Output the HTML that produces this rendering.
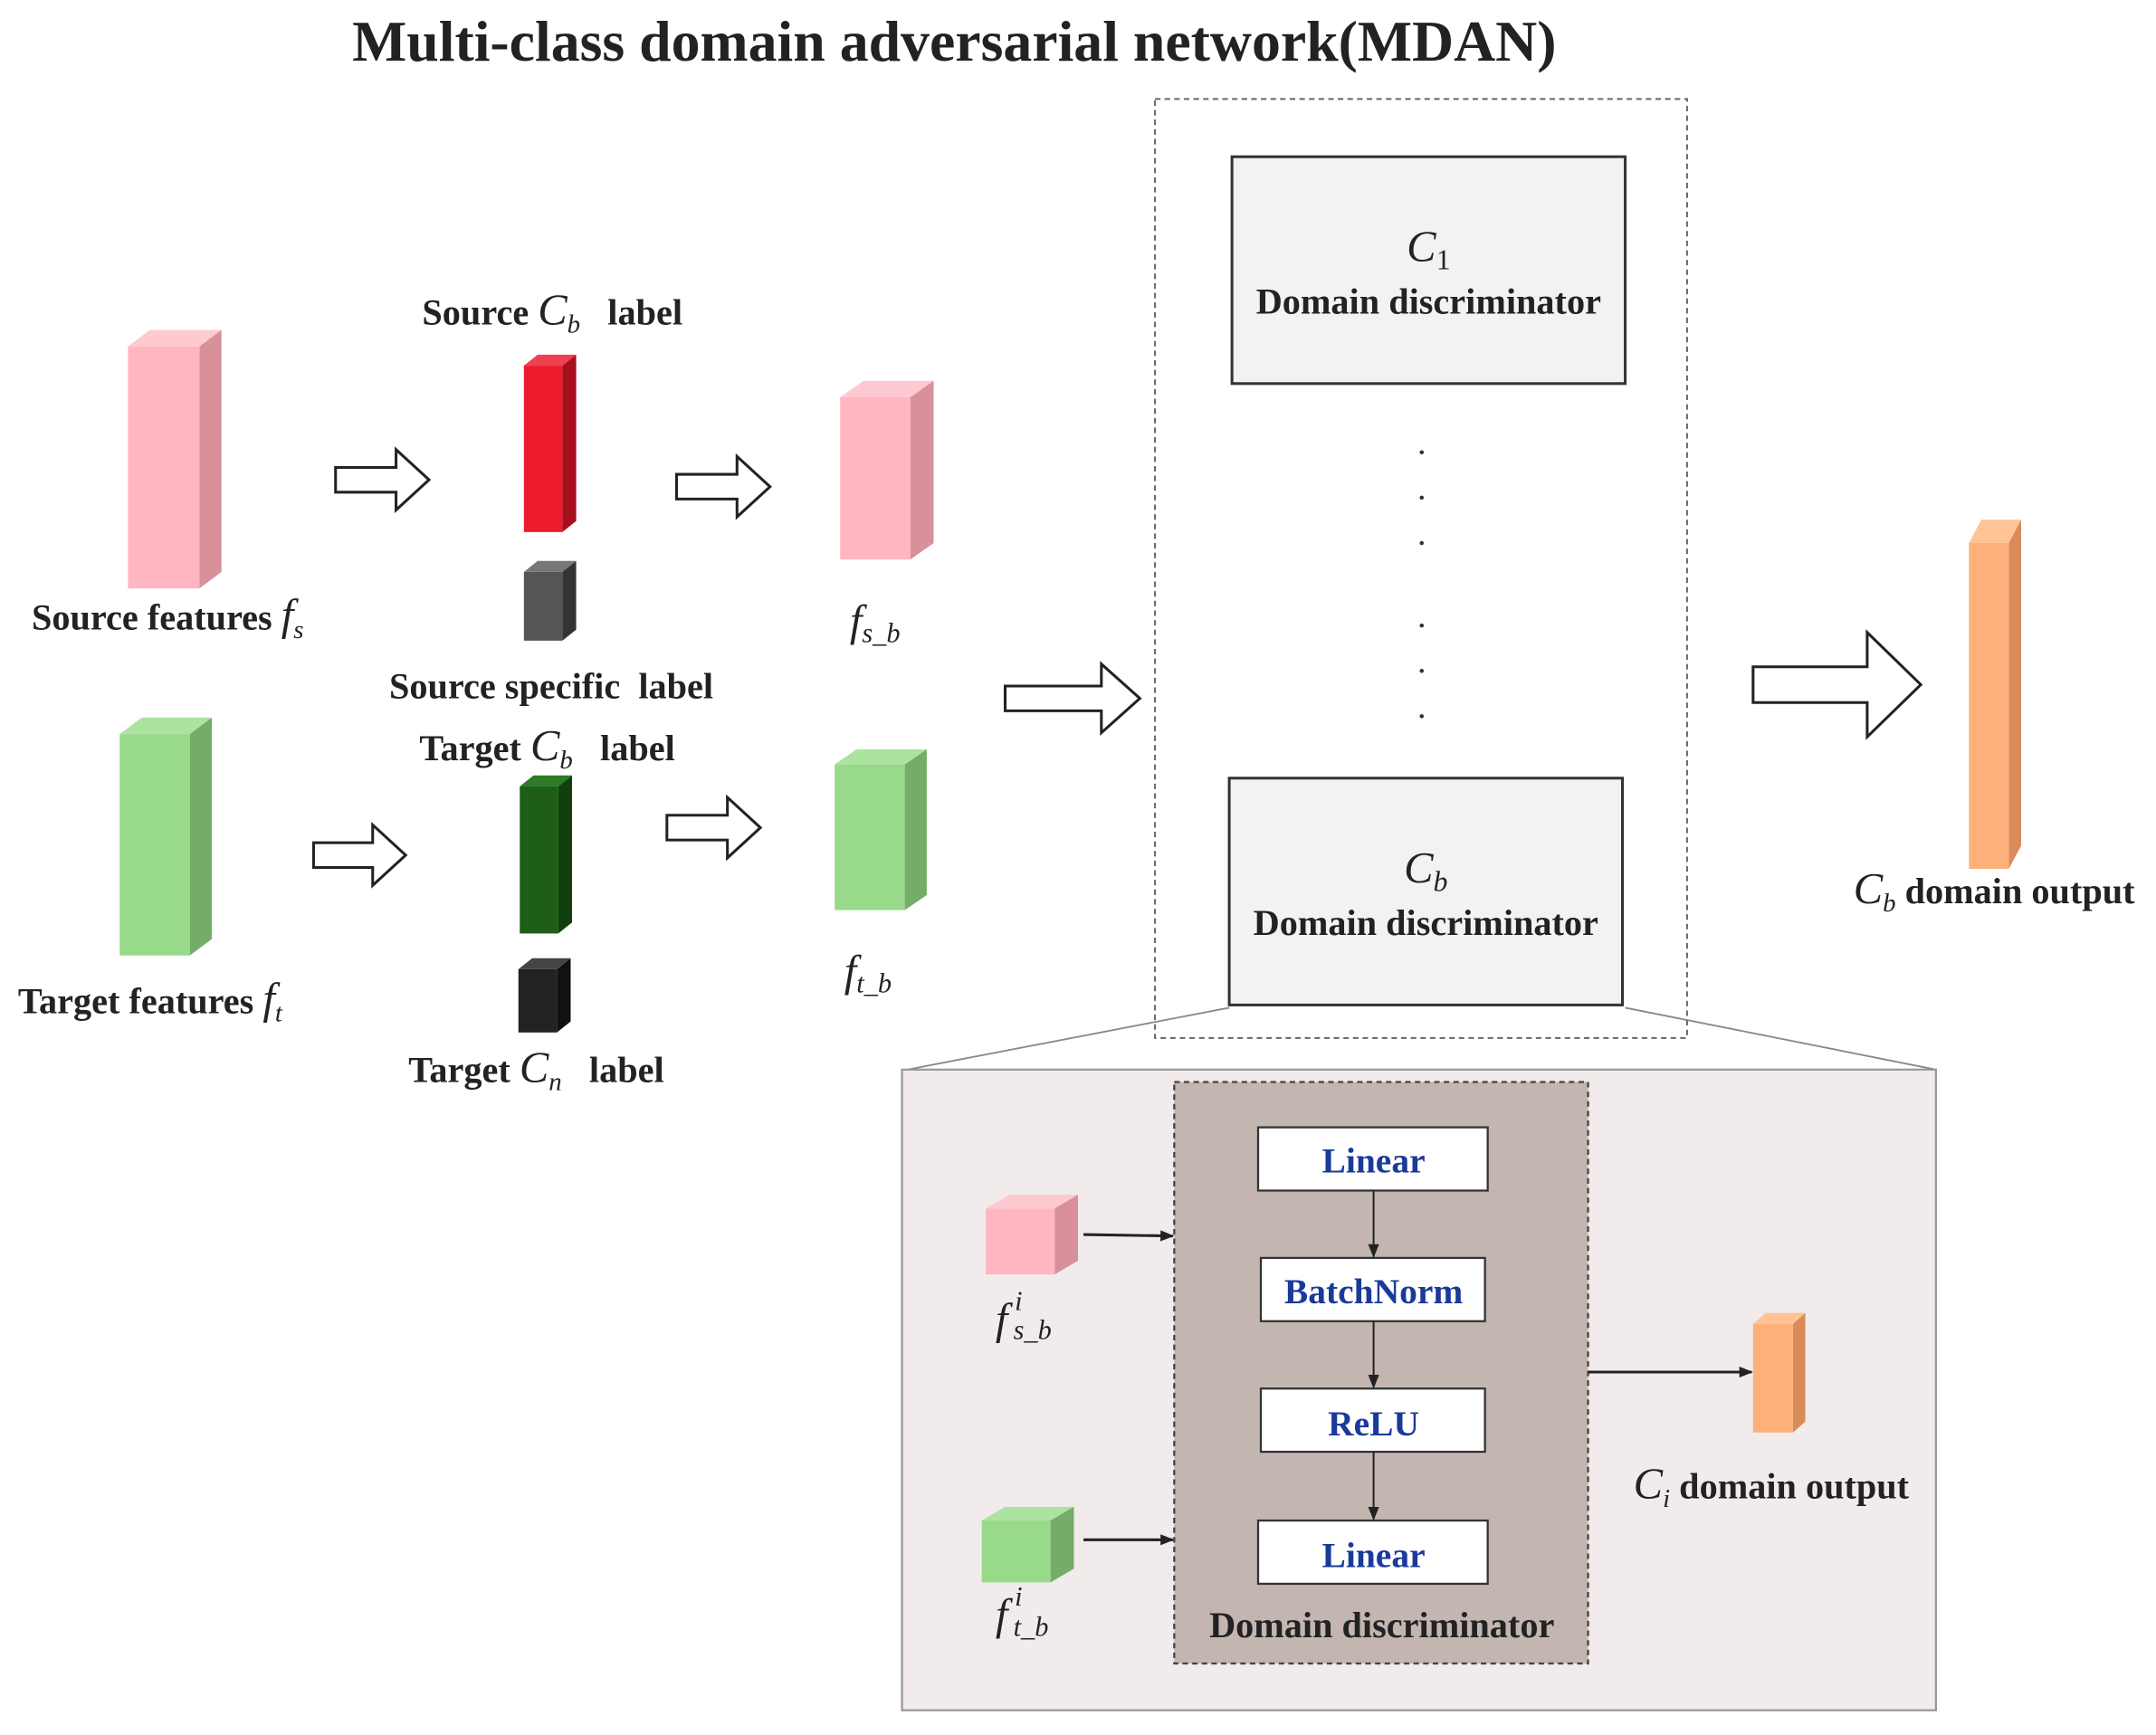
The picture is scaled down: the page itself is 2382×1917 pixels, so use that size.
<!DOCTYPE html>
<html><head><meta charset="utf-8"><style>html,body{margin:0;padding:0;background:#fff}svg{display:block}</style></head>
<body>
<svg width="2382" height="1917" viewBox="0 0 1568 1262" xmlns="http://www.w3.org/2000/svg" font-family="Liberation Serif, serif">
<defs>
<marker id="ah" markerWidth="10" markerHeight="8" refX="9" refY="4" orient="auto" markerUnits="userSpaceOnUse"><path d="M0,0 L10,4 L0,8 Z" fill="#222"/></marker>
</defs>
<rect width="1568" height="1262" fill="#fff"/>
<text x="694" y="44" text-anchor="middle" font-size="42" font-weight="bold" fill="#222">Multi-class domain adversarial network(MDAN)</text>

<line x1="894" y1="733" x2="660" y2="778" stroke="#888" stroke-width="1.2"/>
<line x1="1182" y1="733" x2="1408" y2="778" stroke="#888" stroke-width="1.2"/>
<rect x="656" y="778" width="752" height="466" fill="#F1ECEB" stroke="#999" stroke-width="1.5"/>
<rect x="854" y="787" width="301" height="423" fill="#C3B5B0" stroke="#444" stroke-width="1.5" stroke-dasharray="4,3"/>

<g>
<polygon points="93,252 109,240 161,240 145,252" fill="#FFC9D1"/><polygon points="145,252 161,240 161,416 145,428" fill="#D8909B"/><rect x="93" y="252" width="52" height="176" fill="#FFB6C1"/>
<polygon points="381,266 391,258 419,258 409,266" fill="#F04050"/><polygon points="409,266 419,258 419,379 409,387" fill="#A80F1E"/><rect x="381" y="266" width="28" height="121" fill="#EC1B2E"/>
<polygon points="381,416 391,408 419,408 409,416" fill="#777"/><polygon points="409,416 419,408 419,458 409,466" fill="#333"/><rect x="381" y="416" width="28" height="50" fill="#555"/>
<polygon points="611,289 628,277 679,277 662,289" fill="#FFC9D1"/><polygon points="662,289 679,277 679,395 662,407" fill="#D8909B"/><rect x="611" y="289" width="51" height="118" fill="#FFB6C1"/>
<polygon points="87,534 103,522 154,522 138,534" fill="#ADE3A1"/><polygon points="138,534 154,522 154,683 138,695" fill="#74AD68"/><rect x="87" y="534" width="51" height="161" fill="#98D98A"/>
<polygon points="378,572 388,564 416,564 406,572" fill="#2E7A25"/><polygon points="406,572 416,564 416,671 406,679" fill="#123F0E"/><rect x="378" y="572" width="28" height="107" fill="#1E5E17"/>
<polygon points="377,705 387,697 415,697 405,705" fill="#444"/><polygon points="405,705 415,697 415,743 405,751" fill="#111"/><rect x="377" y="705" width="28" height="46" fill="#222"/>
<polygon points="607,556 623,545 674,545 658,556" fill="#ADE3A1"/><polygon points="658,556 674,545 674,651 658,662" fill="#74AD68"/><rect x="607" y="556" width="51" height="106" fill="#98D98A"/>
<polygon points="1432,395 1441,378 1470,378 1461,395" fill="#FFC396"/><polygon points="1461,395 1470,378 1470,615 1461,632" fill="#D98C5A"/><rect x="1432" y="395" width="29" height="237" fill="#FDB07A"/>
<polygon points="717,879 734,869 784,869 767,879" fill="#FFC9D1"/><polygon points="767,879 784,869 784,917 767,927" fill="#D8909B"/><rect x="717" y="879" width="50" height="48" fill="#FFB6C1"/>
<polygon points="714,1106 731,1096 781,1096 764,1106" fill="#ADE3A1"/><polygon points="764,1106 781,1096 781,1141 764,1151" fill="#74AD68"/><rect x="714" y="1106" width="50" height="45" fill="#98D98A"/>
<polygon points="1275,963 1284,955 1313,955 1304,963" fill="#FFC396"/><polygon points="1304,963 1313,955 1313,1034 1304,1042" fill="#D98C5A"/><rect x="1275" y="963" width="29" height="79" fill="#FDB07A"/>
</g>

<g fill="#fff" stroke="#222" stroke-width="2">
<polygon points="244,340 288,340 288,327 312,349 288,371 288,358 244,358"/>
<polygon points="492,345 536,345 536,332 560,354 536,376 536,363 492,363"/>
<polygon points="228,613 271,613 271,600 295,622 271,644 271,631 228,631"/>
<polygon points="485,593 529,593 529,580 553,602 529,624 529,611 485,611"/>
<polygon points="731,499 801,499 801,483 829,508 801,533 801,517 731,517"/>
<polygon points="1275,485 1358,485 1358,460 1397,498 1358,536 1358,511 1275,511"/>
</g>

<rect x="840" y="72" width="387" height="683" fill="none" stroke="#666" stroke-width="1.3" stroke-dasharray="4,3"/>
<rect x="896" y="114" width="286" height="165" fill="#F2F2F2" stroke="#333" stroke-width="2"/>
<rect x="894" y="566" width="286" height="165" fill="#F2F2F2" stroke="#333" stroke-width="2"/>
<g fill="#333"><circle cx="1034" cy="329" r="1.5"/><circle cx="1034" cy="362" r="1.5"/><circle cx="1034" cy="395" r="1.5"/><circle cx="1034" cy="455" r="1.5"/><circle cx="1034" cy="488" r="1.5"/><circle cx="1034" cy="521" r="1.5"/></g>
<text x="1039" y="190" text-anchor="middle" font-size="32" font-style="italic" fill="#222">C<tspan font-style="normal" font-size="21" dy="6">1</tspan></text>
<text x="1039" y="228" text-anchor="middle" font-size="26.5" font-weight="bold" fill="#222">Domain discriminator</text>
<text x="1037" y="642" text-anchor="middle" font-size="32" font-style="italic" fill="#222">C<tspan font-size="21" dy="6">b</tspan></text>
<text x="1037" y="680" text-anchor="middle" font-size="26.5" font-weight="bold" fill="#222">Domain discriminator</text>

<g fill="#fff" stroke="#333" stroke-width="1.5">
<rect x="915" y="820" width="167" height="46"/><rect x="917" y="915" width="163" height="46"/><rect x="917" y="1010" width="163" height="46"/><rect x="915" y="1106" width="167" height="46"/>
</g>
<g font-size="26" font-weight="bold" fill="#1A3A9A" text-anchor="middle">
<text x="999" y="853">Linear</text><text x="999" y="948">BatchNorm</text><text x="999" y="1044">ReLU</text><text x="999" y="1140">Linear</text>
</g>
<g stroke="#222" stroke-width="1.3" marker-end="url(#ah)">
<line x1="999" y1="866" x2="999" y2="914"/><line x1="999" y1="961" x2="999" y2="1009"/><line x1="999" y1="1056" x2="999" y2="1105"/>
<line x1="788" y1="898" x2="853" y2="899" stroke-width="2"/><line x1="788" y1="1120" x2="853" y2="1120" stroke-width="2"/>
<line x1="1155" y1="998" x2="1274" y2="998" stroke-width="2"/>
</g>
<text x="1005" y="1191" text-anchor="middle" font-size="26.5" font-weight="bold" fill="#222">Domain discriminator</text>

<g font-size="26.5" font-weight="bold" fill="#222">
<text x="23" y="458">Source features <tspan font-weight="normal" font-style="italic" font-size="32">f</tspan><tspan font-weight="normal" font-style="italic" font-size="19" dy="6">s</tspan></text>
<text x="307" y="236">Source <tspan font-weight="normal" font-style="italic" font-size="32">C</tspan><tspan font-weight="normal" font-style="italic" font-size="19" dy="6">b</tspan><tspan dy="-6">&#160;&#160; label</tspan></text>
<text x="283" y="508">Source specific&#160; label</text>
<text x="305" y="553">Target <tspan font-weight="normal" font-style="italic" font-size="32">C</tspan><tspan font-weight="normal" font-style="italic" font-size="19" dy="6">b</tspan><tspan dy="-6">&#160;&#160; label</tspan></text>
<text x="13" y="737">Target features <tspan font-weight="normal" font-style="italic" font-size="32">f</tspan><tspan font-weight="normal" font-style="italic" font-size="19" dy="6">t</tspan></text>
<text x="297" y="787">Target <tspan font-weight="normal" font-style="italic" font-size="32">C</tspan><tspan font-weight="normal" font-style="italic" font-size="19" dy="6">n</tspan><tspan dy="-6">&#160;&#160; label</tspan></text>
<text x="1348" y="657"><tspan font-weight="normal" font-style="italic" font-size="32">C</tspan><tspan font-weight="normal" font-style="italic" font-size="19" dy="6">b</tspan><tspan dy="-6"> domain output</tspan></text>
<text x="1188" y="1090"><tspan font-weight="normal" font-style="italic" font-size="32">C</tspan><tspan font-weight="normal" font-style="italic" font-size="19" dy="6">i</tspan><tspan dy="-6"> domain output</tspan></text>
</g>
<g font-style="italic" fill="#222">
<text x="618" y="462" font-size="32">f<tspan font-size="20" dy="5">s_b</tspan></text>
<text x="614" y="717" font-size="32">f<tspan font-size="20" dy="5">t_b</tspan></text>
<text x="724" y="970" font-size="32">f</text><text x="738" y="953" font-size="20">i</text><text x="737" y="974" font-size="20">s_b</text>
<text x="724" y="1185" font-size="32">f</text><text x="738" y="1168" font-size="20">i</text><text x="737" y="1190" font-size="20">t_b</text>
</g>
</svg>
</body></html>
